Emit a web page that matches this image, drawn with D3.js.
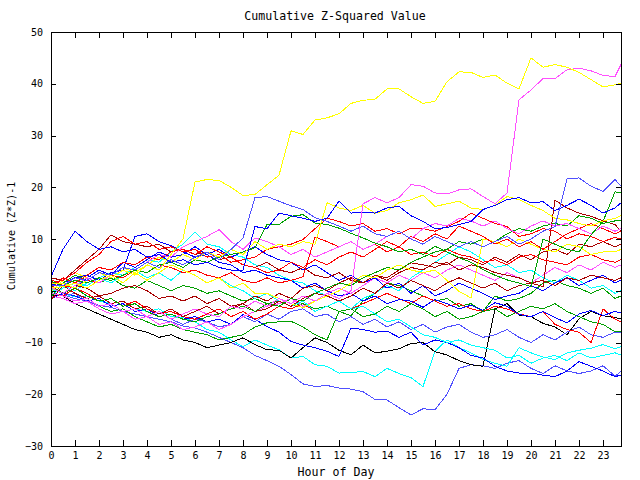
<!DOCTYPE html>
<html><head><meta charset="utf-8">
<script src="https://cdn.jsdelivr.net/npm/d3@7/dist/d3.min.js"></script>
<style>body{margin:0;background:#fff}text{font-family:"DejaVu Sans Mono",monospace;fill:#000}</style>
</head><body>
<svg id="chart" width="640" height="480"></svg>
<script>
const titleText = "Cumulative Z-Squared Value";
const xLabel = "Hour of Day";
const yLabel = "Cumulative (Z*Z)-1";
const xTicks = [0,1,2,3,4,5,6,7,8,9,10,11,12,13,14,15,16,17,18,19,20,21,22,23];
const yTicks = [-30,-20,-10,0,10,20,30,40,50];
const hours = [0,0.5,1,1.5,2,2.5,3,3.5,4,4.5,5,5.5,6,6.5,7,7.5,8,8.5,9,9.5,10,10.5,11,11.5,
  12,12.5,13,13.5,14,14.5,15,15.5,16,16.5,17,17.5,18,18.5,19,19.5,20,20.5,21,21.5,22,22.5,23,23.5,23.75];

const s01 = [0.5,0.8,1.5,0.5,2,3,1.5,3.5,5,4,7,10, 21,21.5,21.3,20,18.4,18.6,20.5,22.3,30.9,30.2,33,33.4,
  34.2,36.2,36.8,37,39,39,37.5,36.2,36.6,40.4,42.3,42.2, 41.2,41.7,40.1,39,45,43.2,43.7,43.2,42.2,40.8,39.4,39.8, 40.1];
const s02 = [-0.5,-1,-2,-1.5,-3,-2.5,-4,-3.5,-5,-4,-5.5,-4.5, -3.5,-4.5,-5,-3,-3.5,-2,-3,-1.5,-2.5,-1,-2,-0.5,
  -1.5,0,16.8,18,17,18,20.5,20.2,18.9,18.7,19.5,19.7, 18.2,16.8,18.9,36.9,38.8,41,41,42.7,43,42.5,41.6,41.4, 43.7];
const s03 = [1,1,2.5,2,3.5,3,4.5,4,5.5,4.5,6,5, 6.5,7.5,6,8,10.2,18,18.2,17.3,16.4,15.7,14.1,13.4,
  12.5,11.5,12.5,11,10.5,11.5,10,9,10.5,9.5,8.5,9.5, 8.5,9.5,10.5,9,10,11.5,12.4,21.6,21.8,20.2,19.2,21.5, 20.2];
const s04 = [-0.5,-0.8,-1.5,-2,-2.8,-3.2,-4,-4.5,-5,-5.5,-6,-6.8, -7.2,-8,-9,-10,-11,-12.5,-13.5,-14.6,-16.2,-18,-18.5,-18.3,
  -18.8,-19,-19.5,-21,-21.1,-22.6,-24,-22.8,-23,-20,-15,-14.3, -14.5,-15,-14,-13.5,-15,-16,-14.5,-15.5,-16,-15.5,-14.5,-16.5, -15.6];
const s05 = [0.3,-0.5,-1.2,-1,-2,-2.5,-2,-3.5,-4,-3.5,-5,-5.2, -6,-7.5,-8,-9.5,-10.8,-9.5,-10.5,-11.4,-13,-12.7,-14.3,-14.6,
  -15.9,-15.8,-15.6,-16.6,-15,-16,-16.8,-18.5,-11.7,-9.5,-11,-12, -13.3,-14,-14.6,-11,-12,-12.8,-13.3,-12,-11.5,-11.1,-10.4,-11.2, -10.8];
const s06 = [-0.8,-1,-2.5,-3.5,-4.5,-5.5,-6.5,-7.5,-8,-9,-8.5,-9.5, -10,-11,-10.5,-10,-9.1,-10.4,-11.4,-11.5,-13,-11,-9.1,-10,
  -11.5,-12.4,-10.5,-12,-11.7,-11.2,-10.2,-10,-11.8,-12.4,-13.5,-14.3, -14.6,-3.5,-2.5,-4.7,-5,-6.3,-7,-8.5,-5.4,-4,-4.8,-5.2, -5.4];
const s07 = [2.7,8,11.5,9.5,8,8.5,7.5,8,6.5,7,5.5,6, 5,5.5,4.5,4,4,12.4,12,15,14.5,14,13.4,14,
  17.3,15,15.2,15,16,16.3,14.5,13.4,12,12.2,12.8,13.4, 15.7,16.5,17.6,18,17,17.2,15.5,16.5,17.7,16.5,15,16, 17];
const s08 = [1.2,1.5,2.5,3,2,3.5,4,10.5,11,9.5,8.7,7.5, 6.5,7,5.5,5,3.5,4,3,2.5,2,0.5,1.5,0,
  -1,-0.5,-2,-1,-2.5,-1.7,-2,-3.2,-1.7,-2.5,-3.5,-2.8, -3.8,-2.3,-3,-4.6,-5,-4,-5.2,-6.2,-4.5,-3.8,-4.8,-4, -4.3];
const s09 = [-1.5,-0.5,-1,-2,-1.5,-3,-2.5,-4,-3.5,-5,-4.5,-5.5, -5,-6,-5.5,-6.5,-4.6,-5.5,-6.9,-8,-9.8,-10.5,-11,-11.7,
  -12.7,-7.2,-7.5,-8,-7.8,-9,-8,-10.5,-9.5,-10,-11,-12.5, -13,-14.6,-15.5,-15.9,-15.9,-16.3,-16.6,-15.5,-13.7,-14.6,-15.5,-16.6, -16.3];
const s10 = [-0.3,-1,-2,-1.5,-3,-4,-3.5,-5,-6,-7,-6.5,-7.5, -8,-8.5,-9.5,-9,-8.5,-7,-6.2,-6,-5.9,-7,-8.5,-9.5,
  -4,-4.8,-2,-0.5,1.5,1,0,-1,-2,-1.5,-3,-2.5, -4,-3.5,-5,-4,-3,-3.5,-2.5,-4,-5,-6,-6.5,-7.9, -7.9];
const s11 = [1.8,1,2,1.5,2.5,2,3,4,3.5,5,5.5,4.5, 6,5.5,6.5,7,7.5,8.3,12.8,12.8,14.4,14.7,13.1,12.8,
  12.1,11.1,10.2,9.2,8.5,7.5,8,7,8.6,7.5,6.4,5.5, 4.1,3,2.1,1.5,0.8,10,9,8,7.5,10.8,13.4,19.1, 18.9];
const s12 = [0.8,-0.5,0.5,-1,-2,-1.5,-3,-2.5,-4,-5,-4.5,-5.5, -6,-5,-4.5,-3.5,-3,-4,-2.5,-3,-1.5,-2,-0.5,0.5,
  1.5,1,2.5,3.5,4.5,4,5.5,6.5,7.5,8,9.5,9, 10,9.5,11,12,11.5,12.5,13,12.5,14.5,14,13,13.5, 13.5];
const s13 = [-1.2,1.5,3,2,1.5,2.5,1,0.5,2,1,0,1, 0.5,-0.5,0,-1,-2,-1.5,-2.5,-2,-3,-2.5,-3.5,-3,
  -4,-3.5,-5,-4.5,-3,-4,-2.5,-3.5,-5,-4,-5.5,-5, -4,-1,-2,-1.5,-0.5,1.5,2,1,0.5,-0.5,0.5,-1.5, -1];
const s14 = [1.5,2,3.5,5.5,7,9.5,10.5,9,9.5,8,8.5,7.5, 8,6.5,7,5.5,6,6.5,8,8.5,9,9.9,12,14,
  13.4,12.5,13,11.5,12,11,12.1,12,11.5,12.4,13.4,15, 14,13,12.4,10.5,11,12,11.5,10,11,10.5,9.5,10.3, 10];
const s15 = [2.2,1,0.5,2,1.5,3,2.5,4,3.5,5,4.5,3.5, 4,3,2.5,3.5,2,1.5,2.5,1.5,2,2.7,10.4,9.5,
  8.5,9.5,8,9,7.5,8.5,7,7.5,6.5,8,7,6.5, 5.5,6,5,6.5,7,6,5.5,5,6.5,7,6,5.5, 6];
const s16 = [-0.6,-1,0.5,-0.5,-2,-1.5,-3,-2,-3.5,-4.5,-4,-5, -5.5,-4.5,-3.5,-5,-4,-5.5,-4.5,-3,-3.5,-2.5,-4,-3,
  -2,-3.5,-2.5,-1.5,-0.5,-1.5,-2.5,-1,-2,-3,-2.5,-3.5, -4,-3,-3.5,-4.5,-5,-4,-6.5,-7.5,-8,-10,-3.5,-5.5, -6];
const s17 = [0.4,2.5,1.5,3,4.5,4,5.5,5,6.5,6,7.5,8, 7,8.5,7.5,6.5,5,4.5,3.5,4,5.5,4.5,6,5,
  6.5,7.5,6.5,8,9.5,8.5,10.5,9.5,11,10,12.5,11.5, 10.5,9,10,8.5,9.5,8,9.5,11,12,13,12,11, 11.5];
const s18 = [1,-0.5,1,0.5,-1,-0.5,0.5,1,0,-1.5,-1,-2, -1,-2.5,-1.5,-3,-2.5,-4,-3.5,-2,-3,-1.5,-0.5,-1,
  -2,-1,0.5,-0.5,1.5,0.5,2,1,0,1.5,2.5,1.5, 0.5,1.5,0,1,1.5,0.8,17.5,16,15,14.4,13.5,12.8, 11.5];
const s19 = [2.5,2,4,6,8,10.8,9.5,9,8.5,9,7.5,8, 7,7.5,6,6.5,5,4.5,5.5,4,3.5,4.5,3,2.5,
  3.5,2,1.5,3,2.5,4,5.4,5,4.5,5.5,4,5, 4.5,3.5,3,2.5,1.5,2,1,2.5,2,3,2.5,2, 2.5];
const s20 = [-1.8,1,-0.5,-1.5,-1,-2.5,-2,-3.5,-3,-4.5,-3.5,-5, -4,-3,-4.5,-3.5,-2.5,-1,-2,-0.5,-1.5,0.5,1,0,
  1.5,2.5,1.5,3,2,3.5,4.5,4,5.5,5,6.5,6, 5,6.5,5.5,7,6,7.5,8,7,9,8.5,9.5,8.5, 9];
const s21 = [1.3,1.5,0.5,2,3.5,2.5,4,3,5,6.5,5.5,7, 6,7.5,6.5,8,7,9.5,8,9,8.5,9.5,9,17,
  16,15.5,16.5,15,15.5,17,17.6,18.5,16.3,16.8,17.3,16, 15.7,16.5,18.2,17.6,16.5,15.5,14,13.7,13,12.5,13.5,14, 14.5];
const s22 = [-0.2,2,3.5,2.5,1.5,3,4.5,3.5,2,3.5,5,4, 3,1.5,2.5,0.5,1.5,-0.5,-0.5,-1.5,-2.5,-3.3,-2,-1,
  0,1.5,3,2.5,4,5,4,3.5,4,2,-0.1,-1.4, 10,9.5,8.5,10,9,8,7.5,9,8.5,7,7.5,7.5, 8];
const s23 = [0.6,-0.5,1,2.5,1.5,3,4.5,4,5.5,7,6.5,8.5, 9.5,10.5,11.8,9.5,8,10.2,9.5,8.5,7,8,6.5,7.5,
  8.5,9.5,8,9,10.5,11.5,10,12,13,12.5,14,13.5, 12.5,13.5,12,11,12.5,13.5,12.5,13,12,11,12.5,11.5, 12];
const s24 = [-1,-1.5,-2.5,-2,-3.5,-4.5,-4,-5.5,-5,-6.5,-6,-7.5, -7,-6,-7.5,-6.5,-5,-4,-3,-2.5,-1.5,-3,-2,-0.5,
  0.5,-0.5,1,2.5,1.5,3,2,3.5,2.5,4,5,4, 3,2,3.5,2.5,1.5,3,4.5,3.5,5,4,5.5,4.5, 5];
const s25 = [-0.8,0.5,1.5,1,2.5,3.5,3,4.5,6,5.5,7.5,9, 11.3,9,8.5,7,6.5,5,4.5,3,2,1.5,0,-1,
  -2,-3.5,-3,-4.5,-6,-5.5,-7,-8.5,-9,-10,-9.5,-10.5, -11,-11.5,-13,-12.5,-14,-13,-12.5,-13.5,-12,-13,-12.5,-12, -12.4];
const s26 = [0.2,1,0,1.5,2.5,1.5,3,4,2.5,3.5,2,4, 3,1.5,2.5,1,0,-1.5,-0.5,-2,-3,-2,-4,-3,
  -2,-3.5,-1.5,-0.5,1,0,2.5,4,5.5,7,8.5,7.5, 6,4.5,5,3.5,4,2.5,1.5,3,2,0.5,1,-0.5, 0];
const s27 = [-0.4,-1,-0.5,-2,-3,-2.5,-4,-3.5,-5,-4,-5.5,-6.5, -5.5,-6,-7,-6.5,-5,-6,-4.5,-5.5,-4,-3.5,-5,-4.5,
  -6,-5,-6.5,-5.5,-7,-6,-7.5,-6.5,-8,-7,-6.5,-8, -9,-8.5,-7.5,-9,-10,-8.5,-9.5,-8,-7,-8.5,-9,-8, -8];
const s28 = [0.7,1.5,0.5,2.5,4,3,5.5,4.5,6,7.5,6.5,7, 8.5,7,8,6.5,7.5,8.5,7,6,5.5,4,5,3.5,
  2,3,1.5,2.5,0.5,1.5,-0.5,1,-1,0,1.5,0.5, -0.5,-1.7,-1,-0.5,1,0,1.5,2.5,1,2,3,1.5, 2.1];

const series = [s04,s05,s06,s09,s10,s27,s25,s16,s08,s13,s24,s26,s28,s18,s19,s20,s15,s12,s22,s17,s14,s23,s11,s21,s07,s03,s02,s01];
const seriesColors = ["#5050ff","#00ffff","#000000","#0000ff","#00a000","#5050ff","#00ffff","#ff0000","#0000ff","#00a000",
  "#ff50ff","#00ffff","#0000ff","#a80000","#a80000","#a80000","#ff0000","#00a000","#ffff00","#ff0000",
  "#ff0000","#ff50ff","#00a000","#ffff00","#0000ff","#5050ff","#ff50ff","#ffff00"];

const svg = d3.select("#chart");
const L = 51, R = 621, T = 32, B = 446;
const x = d3.scaleLinear().domain([0, 23.75]).range([L, R]);
const y = d3.scaleLinear().domain([-30, 50]).range([B, T]);

svg.append("defs").append("clipPath").attr("id","clip")
  .append("rect").attr("x",L).attr("y",T).attr("width",R-L).attr("height",B-T);

const line = d3.line().x((d,i)=>x(hours[i])).y(d=>y(d));
svg.append("g").attr("clip-path","url(#clip)")
  .selectAll("path").data(series).join("path")
  .attr("d", line).attr("fill","none")
  .attr("stroke",(d,i)=>seriesColors[i]).attr("stroke-width",1)
  .attr("shape-rendering","crispEdges");

function styleAxis(g){
  g.select(".domain").remove();
  g.selectAll(".tick line").attr("stroke","#000").attr("shape-rendering","crispEdges");
  g.selectAll("text").attr("font-size","10px").attr("font-family","DejaVu Sans Mono").attr("fill","#000");
}
svg.append("g").attr("transform",`translate(0,${B})`)
  .call(d3.axisBottom(x).tickValues(xTicks).tickSizeInner(-6).tickSizeOuter(0).tickPadding(6).tickFormat(d3.format("d")))
  .call(styleAxis);
svg.append("g").attr("transform",`translate(0,${T})`)
  .call(d3.axisTop(x).tickValues(xTicks).tickSizeInner(-6).tickSizeOuter(0).tickFormat(""))
  .call(styleAxis);
svg.append("g").attr("transform",`translate(${L},0)`)
  .call(d3.axisLeft(y).tickValues(yTicks).tickSizeInner(-5).tickSizeOuter(0).tickPadding(8).tickFormat(d3.format("d")))
  .call(styleAxis);
svg.append("g").attr("transform",`translate(${R},0)`)
  .call(d3.axisRight(y).tickValues(yTicks).tickSizeInner(-5).tickSizeOuter(0).tickFormat(""))
  .call(styleAxis);

svg.append("rect").attr("x",L+0.5).attr("y",T+0.5).attr("width",R-L).attr("height",B-T)
  .attr("fill","none").attr("stroke","#000").attr("stroke-width",1).attr("shape-rendering","crispEdges");

svg.append("text").attr("x",335).attr("y",16).attr("text-anchor","middle").attr("dominant-baseline","central")
  .attr("font-size","11.6px").text(titleText);
svg.append("text").attr("x",336).attr("y",472).attr("text-anchor","middle").attr("dominant-baseline","central")
  .attr("font-size","11.6px").text(xLabel);
svg.append("text").attr("transform","translate(11,236) rotate(-90)").attr("text-anchor","middle")
  .attr("dominant-baseline","central").attr("font-size","10px").text(yLabel);
</script>
</body></html>
